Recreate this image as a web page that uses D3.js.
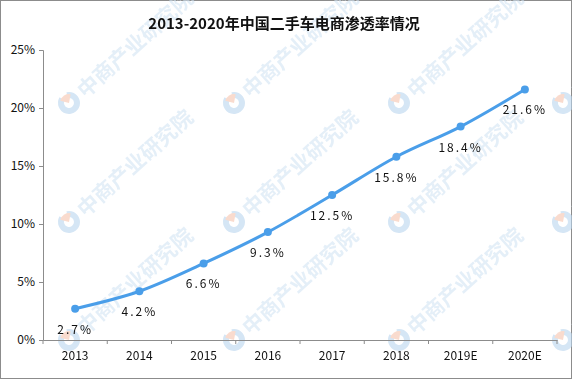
<!DOCTYPE html>
<html>
<head>
<meta charset="utf-8">
<script src="https://cdn.jsdelivr.net/npm/d3@7"></script>
<style>
  body { margin: 0; background: #fff; }
  svg { display: block; }
</style>
</head>
<body>
<svg id="chart" width="572" height="379"></svg>
<script>
let years = ['2013', '2014', '2015', '2016', '2017', '2018', '2019E', '2020E'];
let rates = [2.7, 4.2, 6.6, 9.3, 12.5, 15.8, 18.4, 21.6];
let yTicks = [0, 5, 10, 15, 20, 25];

let svg = d3.select('#chart');
let font = '"Noto Sans CJK SC", "DejaVu Sans", sans-serif';

svg.append('rect')
  .attr('x', 0.5).attr('y', 0.5)
  .attr('width', 571).attr('height', 378)
  .attr('fill', '#fff')
  .attr('stroke', '#8c8c8c');

// watermark grid
let wm = svg.append('g').attr('opacity', 0.6);
let wmX = [69, 234, 399, 563];
let wmY = [103, 222, 340];
wmY.forEach(py => wmX.forEach(px => {
  let g = wm.append('g').attr('transform', `translate(${px},${py}) rotate(-42)`);
  g.append('path')
    .attr('d', d3.arc()({ innerRadius: 5, outerRadius: 11, startAngle: 0.5, endAngle: 2 * Math.PI - 0.3 }))
    .attr('fill', '#b9d5ee');
  g.append('path')
    .attr('d', d3.arc()({ innerRadius: 0, outerRadius: 9, startAngle: 0.2, endAngle: 1.7 }))
    .attr('fill', '#f6c4ad')
    .attr('transform', 'rotate(-45)');
  g.append('text').attr('x', 15).attr('y', 8)
    .attr('font-family', font).attr('font-size', 21).attr('font-weight', 'bold')
    .attr('fill', '#d3e4f3')
    .text('中商产业研究院');
}));

let margin = { left: 43, right: 15, top: 50, bottom: 39 };
let width = 572 - margin.left - margin.right;
let height = 379 - margin.top - margin.bottom;

let plot = svg.append('g').attr('transform', `translate(${margin.left},${margin.top})`);

let x = d3.scaleBand().domain(years).range([0, width]);
let y = d3.scaleLinear().domain([0, 25]).range([height, 0]);

svg.append('text')
  .attr('x', 284).attr('y', 29)
  .attr('text-anchor', 'middle')
  .attr('font-family', font)
  .attr('font-size', 15).attr('font-weight', 'bold')
  .attr('fill', '#111')
  .text('2013-2020年中国二手车电商渗透率情况');

let yAxis = plot.append('g')
  .call(d3.axisLeft(y).tickValues(yTicks).tickSize(4).tickPadding(4).tickFormat(d => d + '%'));
let xAxis = plot.append('g')
  .attr('transform', `translate(0,${height})`)
  .call(d3.axisBottom(x).tickSize(0).tickPadding(11));

[yAxis, xAxis].forEach(a => {
  a.select('.domain').attr('stroke', '#8c8c8c');
  a.selectAll('line').attr('stroke', '#8c8c8c');
  a.selectAll('text').attr('font-family', font).attr('font-size', 12).attr('fill', '#111');
});

// category boundary ticks
plot.append('g').selectAll('line')
  .data(years.concat(['end']))
  .enter()
  .append('line')
  .attr('x1', (d, i) => i * x.bandwidth())
  .attr('x2', (d, i) => i * x.bandwidth())
  .attr('y1', height).attr('y2', height + 4)
  .attr('stroke', '#8c8c8c');

let points = years.map((d, i) => ({ year: d, value: rates[i] }));
let cx = d => x(d.year) + x.bandwidth() / 2;

let line = d3.line()
  .x(cx)
  .y(d => y(d.value))
  .curve(d3.curveMonotoneX);

plot.append('path')
  .datum(points)
  .attr('d', line)
  .attr('fill', 'none')
  .attr('stroke', '#4a9ee9')
  .attr('stroke-width', 3);

plot.selectAll('circle.pt')
  .data(points)
  .enter()
  .append('circle')
  .attr('class', 'pt')
  .attr('cx', cx)
  .attr('cy', d => y(d.value))
  .attr('r', 4)
  .attr('fill', '#4a9ee9');

plot.selectAll('text.lbl')
  .data(points)
  .enter()
  .append('text')
  .attr('class', 'lbl')
  .attr('x', cx)
  .attr('y', d => y(d.value) + 25)
  .attr('text-anchor', 'middle')
  .attr('font-family', font)
  .attr('font-size', 12)
  .attr('letter-spacing', 2)
  .attr('fill', '#111')
  .text(d => d.value.toFixed(1) + '%');
</script>
</body>
</html>
